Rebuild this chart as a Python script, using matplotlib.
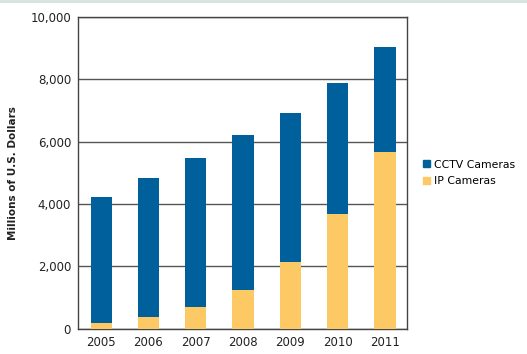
import matplotlib.pyplot as plt
import numpy as np
from matplotlib.patches import Patch
from matplotlib.ticker import FuncFormatter

years = ['2005', '2006', '2007', '2008', '2009', '2010', '2011']
ip_cameras = [190, 370, 690, 1240, 2130, 3690, 5670]
totals = [4230, 4850, 5490, 6210, 6930, 7890, 9030]
cctv_cameras = [t - ip for t, ip in zip(totals, ip_cameras)]

blue = '#00609c'
yellow = '#fdc964'

fig = plt.figure(figsize=(5.27, 3.54), dpi=100)
ax = fig.add_axes([0.148, 0.071, 0.624, 0.881])

x = np.arange(len(years))
width = 0.45
ax.bar(x, ip_cameras, width, color=yellow, zorder=3)
ax.bar(x, cctv_cameras, width, bottom=ip_cameras, color=blue, zorder=3)

ax.set_xlim(-0.49, 6.46)
ax.set_ylim(0, 10000)
ax.set_xticks(x)
ax.set_xticklabels(years)
ax.set_yticks(np.arange(0, 10001, 2000))
ax.yaxis.set_major_formatter(FuncFormatter(lambda v, p: f'{int(v):,}'))
ax.tick_params(length=0, labelsize=8.5, colors='#222222', pad=5)
ax.grid(axis='y', color='#555555', linewidth=1.0, zorder=1)
for s in ax.spines.values():
    s.set_color('#444444')
    s.set_linewidth(1.0)

ax.set_ylabel('Millions of U.S. Dollars', fontsize=7.5, fontweight='semibold',
              color='#222222', labelpad=9)

handles = [Patch(color=blue, label='CCTV Cameras'),
           Patch(color=yellow, label='IP Cameras')]
fig.legend(handles=handles, loc='center left', bbox_to_anchor=(0.785, 0.512),
           frameon=False, fontsize=7.8, handlelength=0.6, handleheight=0.6,
           handletextpad=0.4, labelspacing=0.6)

# thin pale border line at the top of the image
fig.add_artist(plt.Line2D([0, 1], [0.996, 0.996], transform=fig.transFigure,
                          color='#d5e3dc', linewidth=2))

fig.savefig('out.png', dpi=100)
